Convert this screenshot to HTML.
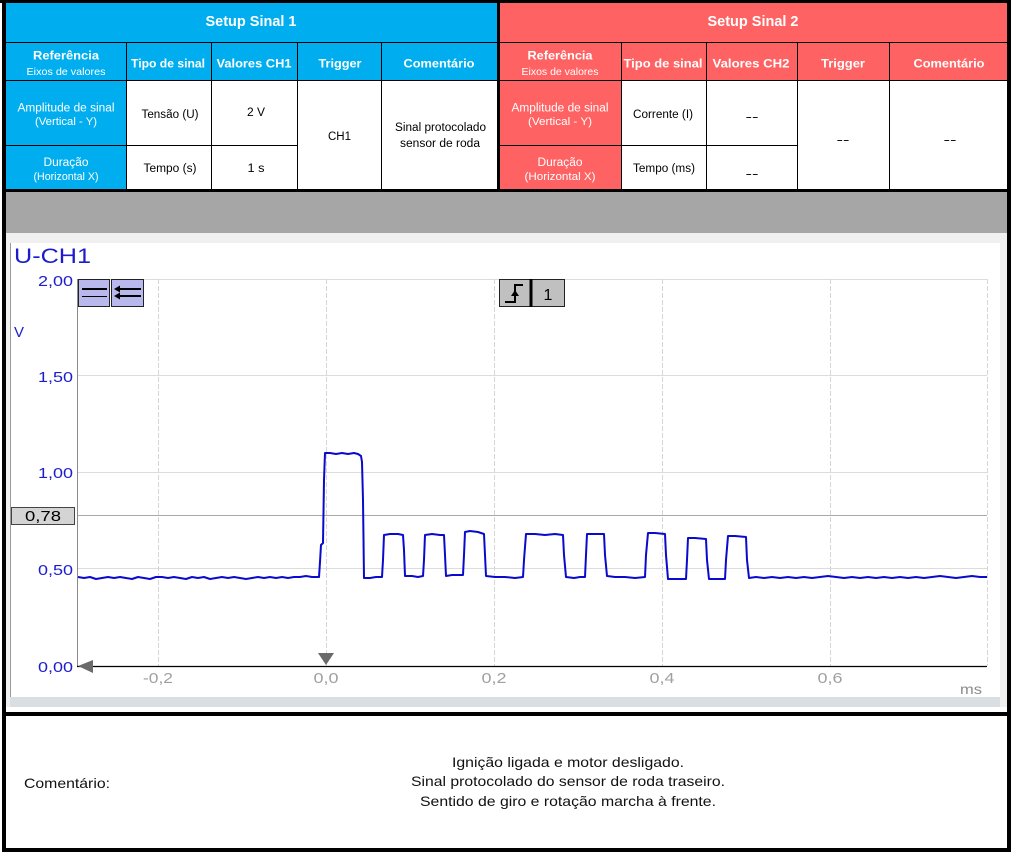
<!DOCTYPE html>
<html><head><meta charset="utf-8"><style>
html,body{margin:0;padding:0;background:#fff;}
body{width:1016px;height:856px;overflow:hidden;}
svg{display:block;}
text{font-family:"Liberation Sans",Arial,sans-serif;}
</style></head><body>
<svg width="1016" height="856" viewBox="0 0 1016 856" xmlns="http://www.w3.org/2000/svg">
<rect x="0" y="0" width="1016" height="856" fill="#fff"/>

<!-- ===== TABLE SINAL 1 ===== -->
<rect x="5" y="3" width="492" height="78" fill="#00AEEF"/>
<rect x="5" y="81" width="121" height="108" fill="#00AEEF"/>
<!-- ===== TABLE SINAL 2 ===== -->
<rect x="500" y="3" width="508" height="78" fill="#FF6262"/>
<rect x="500" y="81" width="121" height="108" fill="#FF6262"/>

<g stroke="#000" stroke-width="1">
  <line x1="5" y1="42.5" x2="1008" y2="42.5"/>
  <line x1="5" y1="80.5" x2="1008" y2="80.5"/>
  <line x1="5" y1="145.5" x2="297" y2="145.5"/>
  <line x1="500" y1="145.5" x2="797" y2="145.5"/>
  <line x1="126.5" y1="42" x2="126.5" y2="189"/>
  <line x1="211.5" y1="42" x2="211.5" y2="189"/>
  <line x1="297.5" y1="42" x2="297.5" y2="189"/>
  <line x1="381.5" y1="42" x2="381.5" y2="189"/>
  <line x1="621.5" y1="42" x2="621.5" y2="189"/>
  <line x1="706.5" y1="42" x2="706.5" y2="189"/>
  <line x1="797.5" y1="42" x2="797.5" y2="189"/>
  <line x1="889.5" y1="42" x2="889.5" y2="189"/>
</g>

<!-- header text -->
<g fill="#fff" font-weight="bold" text-anchor="middle">
  <text x="251" y="26" font-size="14.5" textLength="91" lengthAdjust="spacingAndGlyphs">Setup Sinal 1</text>
  <text x="753" y="26" font-size="14.5" textLength="91" lengthAdjust="spacingAndGlyphs">Setup Sinal 2</text>
  <text x="66" y="59.5" font-size="12" textLength="66" lengthAdjust="spacingAndGlyphs">Referência</text>
  <text x="168" y="67.5" font-size="12" textLength="74" lengthAdjust="spacingAndGlyphs">Tipo de sinal</text>
  <text x="254" y="67.5" font-size="12" textLength="75" lengthAdjust="spacingAndGlyphs">Valores CH1</text>
  <text x="340" y="67.5" font-size="12" textLength="43" lengthAdjust="spacingAndGlyphs">Trigger</text>
  <text x="439" y="67.5" font-size="12" textLength="71" lengthAdjust="spacingAndGlyphs">Comentário</text>
  <text x="560" y="59.5" font-size="12" textLength="65" lengthAdjust="spacingAndGlyphs">Referência</text>
  <text x="663" y="67.5" font-size="12" textLength="79" lengthAdjust="spacingAndGlyphs">Tipo de sinal</text>
  <text x="751" y="67.5" font-size="12" textLength="77" lengthAdjust="spacingAndGlyphs">Valores CH2</text>
  <text x="843" y="67.5" font-size="12" textLength="44" lengthAdjust="spacingAndGlyphs">Trigger</text>
  <text x="949" y="67.5" font-size="12" textLength="71" lengthAdjust="spacingAndGlyphs">Comentário</text>
</g>
<g fill="#fff" text-anchor="middle">
  <text x="66" y="75" font-size="10.5" textLength="79" lengthAdjust="spacingAndGlyphs">Eixos de valores</text>
  <text x="560" y="75" font-size="10.5" textLength="77" lengthAdjust="spacingAndGlyphs">Eixos de valores</text>
  <text x="66" y="111.5" font-size="11.5" textLength="97" lengthAdjust="spacingAndGlyphs">Amplitude de sinal</text>
  <text x="66" y="125" font-size="11" textLength="62" lengthAdjust="spacingAndGlyphs">(Vertical - Y)</text>
  <text x="66" y="166" font-size="11.5" textLength="45" lengthAdjust="spacingAndGlyphs">Duração</text>
  <text x="66" y="180" font-size="11" textLength="65" lengthAdjust="spacingAndGlyphs">(Horizontal X)</text>
  <text x="560" y="111.5" font-size="11.5" textLength="97" lengthAdjust="spacingAndGlyphs">Amplitude de sinal</text>
  <text x="560" y="125" font-size="11" textLength="64" lengthAdjust="spacingAndGlyphs">(Vertical - Y)</text>
  <text x="560" y="166" font-size="11.5" textLength="45" lengthAdjust="spacingAndGlyphs">Duração</text>
  <text x="560" y="180" font-size="11" textLength="71" lengthAdjust="spacingAndGlyphs">(Horizontal X)</text>
</g>
<g fill="#000" text-anchor="middle" font-size="11.5">
  <text x="170" y="118" textLength="57" lengthAdjust="spacingAndGlyphs">Tensão (U)</text>
  <text x="256" y="116" textLength="18" lengthAdjust="spacingAndGlyphs">2 V</text>
  <text x="170" y="172" textLength="53" lengthAdjust="spacingAndGlyphs">Tempo (s)</text>
  <text x="256" y="172" textLength="17" lengthAdjust="spacingAndGlyphs">1 s</text>
  <text x="339.5" y="140" textLength="23" lengthAdjust="spacingAndGlyphs">CH1</text>
  <text x="440.5" y="131" textLength="91" lengthAdjust="spacingAndGlyphs">Sinal protocolado</text>
  <text x="440" y="147" textLength="80" lengthAdjust="spacingAndGlyphs">sensor de roda</text>
  <text x="663" y="118" textLength="60" lengthAdjust="spacingAndGlyphs">Corrente (I)</text>
  <text x="664" y="172" textLength="62" lengthAdjust="spacingAndGlyphs">Tempo (ms)</text>
  <text x="752" y="120.5" textLength="13" lengthAdjust="spacingAndGlyphs">--</text>
  <text x="752" y="177.5" textLength="13" lengthAdjust="spacingAndGlyphs">--</text>
  <text x="843" y="143.5" textLength="13" lengthAdjust="spacingAndGlyphs">--</text>
  <text x="950" y="143.5" textLength="13" lengthAdjust="spacingAndGlyphs">--</text>
</g>

<!-- gray band & panel background -->
<rect x="6" y="192" width="1001" height="41" fill="#A6A6A6"/>
<rect x="6" y="233" width="1001" height="479" fill="#F0F0F0"/>
<rect x="10" y="243" width="990" height="454" fill="#fff"/>
<line x1="10.5" y1="243" x2="10.5" y2="697" stroke="#9a9a9a" stroke-width="1"/>
<rect x="10" y="697" width="990" height="10" fill="#D9DEE2"/>
<rect x="6" y="707" width="1001" height="5" fill="#fff"/>

<!-- grid -->
<g stroke="#dcdcdc" stroke-width="1">
  <line x1="77" y1="279.5" x2="987" y2="279.5"/>
  <line x1="77" y1="375.5" x2="987" y2="375.5"/>
  <line x1="77" y1="472.5" x2="987" y2="472.5"/>
  <line x1="77" y1="568.5" x2="987" y2="568.5"/>
</g>
<g stroke="#d6d6d6" stroke-width="1" stroke-dasharray="5,2">
  <line x1="158.5" y1="279" x2="158.5" y2="666"/>
  <line x1="326.5" y1="279" x2="326.5" y2="666"/>
  <line x1="494.5" y1="279" x2="494.5" y2="666"/>
  <line x1="662.5" y1="279" x2="662.5" y2="666"/>
  <line x1="830.5" y1="279" x2="830.5" y2="666"/>
  <line x1="987.5" y1="279" x2="987.5" y2="666"/>
</g>
<line x1="77" y1="515.5" x2="987" y2="515.5" stroke="#a8a8a8" stroke-width="1"/>
<line x1="77.5" y1="279" x2="77.5" y2="666" stroke="#8a8a8a" stroke-width="1"/>
<line x1="77" y1="666.5" x2="987" y2="666.5" stroke="#000" stroke-width="1.2"/>

<!-- labels -->
<text x="14" y="263" font-size="21" fill="#1C1CCC" textLength="77" lengthAdjust="spacingAndGlyphs">U-CH1</text>
<g fill="#1C1CCC" font-size="15" text-anchor="end">
  <text x="73" y="286" textLength="35" lengthAdjust="spacingAndGlyphs">2,00</text>
  <text x="73" y="382" textLength="35" lengthAdjust="spacingAndGlyphs">1,50</text>
  <text x="73" y="478" textLength="35" lengthAdjust="spacingAndGlyphs">1,00</text>
  <text x="73" y="575" textLength="35" lengthAdjust="spacingAndGlyphs">0,50</text>
  <text x="73" y="672" textLength="35" lengthAdjust="spacingAndGlyphs">0,00</text>
</g>
<text x="14" y="337" font-size="15" fill="#1C1CCC">V</text>
<g fill="#A0A0A0" font-size="15" text-anchor="middle">
  <text x="158" y="683" textLength="30" lengthAdjust="spacingAndGlyphs">-0,2</text>
  <text x="326" y="683" textLength="25" lengthAdjust="spacingAndGlyphs">0,0</text>
  <text x="494" y="683" textLength="25" lengthAdjust="spacingAndGlyphs">0,2</text>
  <text x="662" y="683" textLength="25" lengthAdjust="spacingAndGlyphs">0,4</text>
  <text x="830" y="683" textLength="25" lengthAdjust="spacingAndGlyphs">0,6</text>
</g>
<text x="971" y="694" font-size="14" fill="#8c8c8c" text-anchor="middle" textLength="22" lengthAdjust="spacingAndGlyphs">ms</text>

<!-- 0,78 cursor box -->
<rect x="11.5" y="507.5" width="63" height="17" fill="#D4D4D4" stroke="#444" stroke-width="1"/>
<text x="43" y="521" font-size="15" fill="#000" text-anchor="middle" textLength="36" lengthAdjust="spacingAndGlyphs">0,78</text>

<!-- markers -->
<polygon points="78,666 93,660 93,673" fill="#6a6a6a"/>
<polygon points="318,653 334,653 326,665" fill="#6a6a6a"/>

<!-- left icons -->
<rect x="78.5" y="279.5" width="31" height="27" fill="#B8B8EC" stroke="#222" stroke-width="1"/>
<rect x="111.5" y="279.5" width="32" height="27" fill="#B8B8EC" stroke="#222" stroke-width="1"/>
<line x1="82" y1="289" x2="107" y2="289" stroke="#000" stroke-width="2"/>
<line x1="82" y1="296.5" x2="107" y2="296.5" stroke="#000" stroke-width="1"/>
<line x1="117" y1="289" x2="141" y2="289" stroke="#000" stroke-width="2"/>
<line x1="117" y1="296" x2="141" y2="296" stroke="#000" stroke-width="2"/>
<polygon points="114,289 120,285.5 120,292.5" fill="#000"/>
<polygon points="114,296 120,292.5 120,299.5" fill="#000"/>

<!-- trigger icon -->
<rect x="499.5" y="279.5" width="31" height="27" fill="#C0C0C0" stroke="#222" stroke-width="1"/>
<rect x="531.5" y="279.5" width="33" height="27" fill="#C0C0C0" stroke="#222" stroke-width="1"/>
<line x1="531" y1="279" x2="531" y2="307" stroke="#000" stroke-width="3"/>
<path d="M505,302 L515,302 L515,285 L523,285" fill="none" stroke="#000" stroke-width="2"/>
<polygon points="515,290 511,296 519,296" fill="#000"/>
<text x="548" y="300" font-size="16" fill="#000" text-anchor="middle">1</text>

<!-- waveform -->
<path fill="none" stroke="#0A0ACC" stroke-width="2" stroke-linejoin="round" d="
M78,577 L84,578 L90,577 L96,579 L102,578 L108,577 L114,578 L120,577 L126,578 L132,579 L138,577 L144,578 L150,579 L156,577 L162,577 L168,578 L174,577 L180,578 L186,579 L192,577 L198,578 L204,577 L210,579 L216,578 L222,577 L228,578 L234,577 L240,578 L246,579 L252,578 L258,577 L264,578 L270,577 L276,578 L282,577 L288,578 L294,577 L300,577 L306,576 L312,577 L319,577
L320,562 L321,545 L323,543 L324,480 L325,453 L330,453 L336,454 L342,453 L348,454 L354,453 L358,454 L361,456 L362,462 L363,500 L364,578
L370,578 L376,577 L382,577 L383,560 L384,535 L390,534 L398,534 L403,535 L404,550 L405,576 L412,576 L418,577 L423,576 L424,560 L425,535 L432,534 L440,535 L444,535 L445,555 L446,576 L452,575 L458,575 L463,575 L464,555 L465,532 L470,531 L478,532 L484,534 L485,555 L486,576
L495,577 L505,577 L515,578 L523,577 L524,560 L526,534 L535,534 L545,535 L555,534 L563,535 L564,555 L566,577 L574,578 L580,577 L585,577 L586,555 L587,534 L595,534 L604,534 L605,555 L607,576 L615,577 L625,577 L635,578 L645,577 L646,555 L648,533 L655,533 L665,534 L666,555 L668,579 L676,579 L686,579 L687,560 L688,538 L695,538 L706,539 L707,560 L709,579 L716,579 L725,579 L726,560 L728,536 L735,536 L746,537 L747,560 L749,578
L756,577 L764,578 L772,577 L780,578 L788,577 L796,578 L804,577 L812,578 L820,577 L828,576 L836,577 L844,578 L852,577 L860,578 L868,577 L876,578 L884,577 L892,578 L900,577 L908,578 L916,577 L924,578 L932,577 L940,576 L948,577 L956,578 L964,577 L972,576 L980,577 L987,577"/>

<!-- comment section -->
<text x="24" y="788" font-size="14" fill="#111" textLength="86" lengthAdjust="spacingAndGlyphs">Comentário:</text>
<g fill="#111" font-size="14" text-anchor="middle">
  <text x="568" y="767" textLength="232" lengthAdjust="spacingAndGlyphs">Ignição ligada e motor desligado.</text>
  <text x="568" y="786" textLength="314" lengthAdjust="spacingAndGlyphs">Sinal protocolado do sensor de roda traseiro.</text>
  <text x="568" y="806" textLength="296" lengthAdjust="spacingAndGlyphs">Sentido de giro e rotação marcha à frente.</text>
</g>

<!-- black frame -->
<g fill="#000">
  <rect x="0" y="0" width="1011" height="3"/>
  <rect x="2" y="0" width="4" height="852"/>
  <rect x="1007" y="0" width="4" height="852"/>
  <rect x="2" y="848" width="1009" height="4"/>
  <rect x="2" y="189" width="1009" height="3"/>
  <rect x="2" y="712" width="1009" height="4"/>
  <rect x="497" y="0" width="3" height="192"/>
</g>
</svg>
</body></html>
